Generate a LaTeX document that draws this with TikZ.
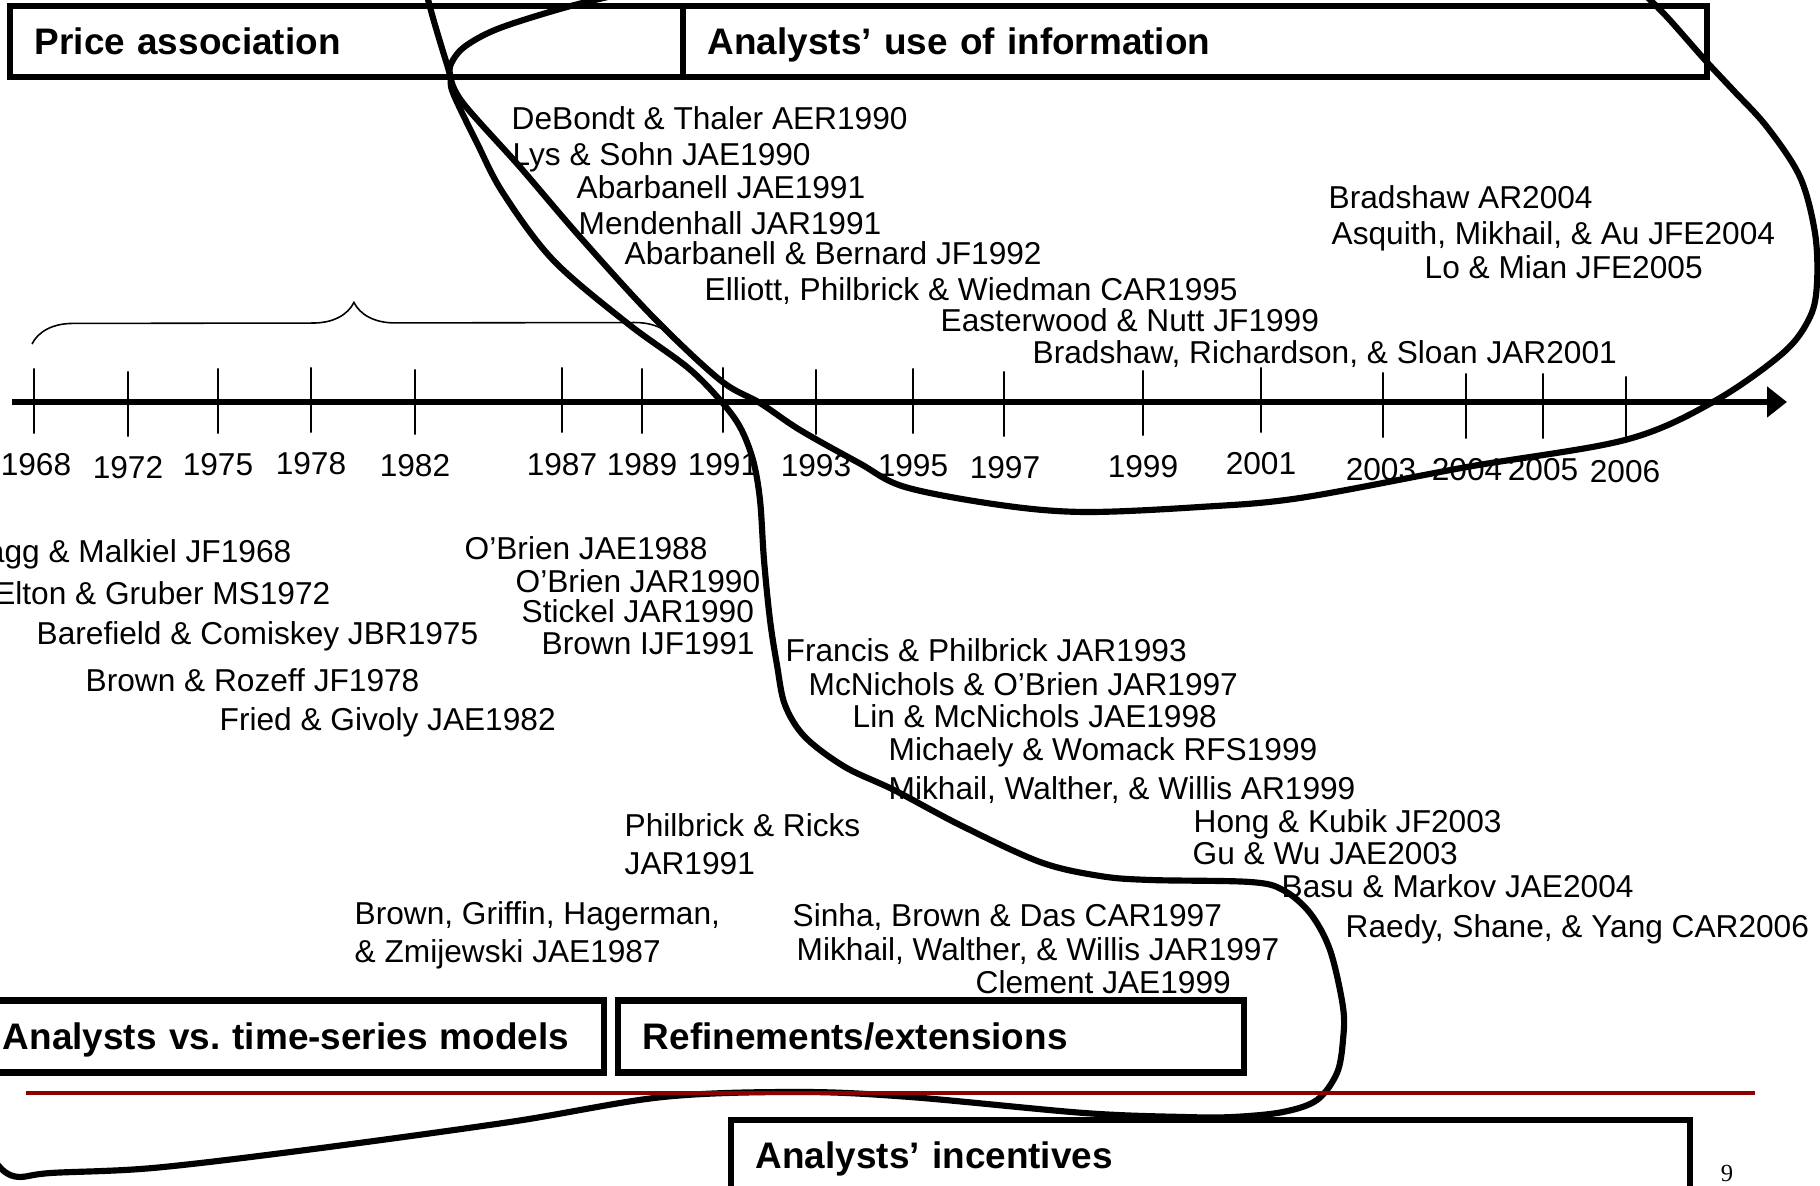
\documentclass[tikz,border=0pt]{standalone}
\usepackage{fontspec}
\setmainfont{Liberation Sans}
\newfontfamily\slidenumfont{Liberation Serif}
\usetikzlibrary{arrows.meta,decorations.pathreplacing}
\definecolor{slidered}{RGB}{140,0,0}
\tikzset{
  paper/.style={font=\fontsize{9}{10.9}\selectfont, inner sep=0pt, text height=6.4pt, text depth=0pt, anchor=west},
  paperblock/.style={font=\fontsize{9}{10.9}\selectfont, inner sep=0pt, align=left, anchor=north west},
  year/.style={font=\fontsize{9}{10.8}\selectfont, inner sep=0pt, text height=6.4pt, text depth=0pt},
  tick/.style={draw, line width=0.5pt, inner sep=0pt, minimum width=0pt, minimum height=0.65cm},
  topic/.style={draw, line width=1.8pt, font=\fontsize{10.5}{12.6}\selectfont\bfseries, inner xsep=0.25cm, inner ysep=0pt, text height=7.5pt, text depth=0pt, align=left},
  lasso/.style={line width=1.75pt, line cap=round, line join=round}
}
\begin{document}
\begin{tikzpicture}[x=0.01cm, y=-0.01cm]
      \useasboundingbox (0,0) rectangle (1820,1186);
      \clip (0,0) rectangle (1820,1186);

      \node[topic, minimum height=0.71cm, text width=6.23cm](price) at (346.5,41.5){Price association};
      \node[topic, minimum height=0.71cm, text width=9.74cm](useinfo) at (1195,41.5){Analysts’ use of information};
      \node[topic, minimum height=0.72cm, text width=5.76cm](tsmodels) at (291,1036.5){Analysts vs.\ time-series models};
      \node[topic, minimum height=0.72cm, text width=5.76cm](refine) at (931,1036.5){Refinements/extensions};
      \node[topic, minimum height=0.70cm, text width=9.09cm](incent) at (1210.5,1155){Analysts’ incentives};

      \coordinate (axisl) at (12,402);
      \coordinate (axisr) at (1787,402);
      \draw[line width=1.9pt, -{Triangle[length=0.2cm, width=0.3cm]}] (axisl) -- (axisr);

      \node[tick](k1968) at (34,401){};
      \node[tick](k1972) at (128,404){};
      \node[tick](k1975) at (218,401){};
      \node[tick](k1978) at (311,400){};
      \node[tick](k1982) at (415,402){};
      \node[tick](k1987) at (562,400){};
      \node[tick](k1989) at (642,401){};
      \node[tick](k1991) at (723,400){};
      \node[tick](k1993) at (816,402){};
      \node[tick](k1995) at (913,401){};
      \node[tick](k1997) at (1004,404){};
      \node[tick](k1999) at (1143,403){};
      \node[tick](k2001) at (1261,400){};
      \node[tick](k2003) at (1383,405){};
      \node[tick](k2004) at (1466,406){};
      \node[tick](k2005) at (1543,406){};
      \node[tick](k2006) at (1626,409){};

      \node[year](y1968) at (36,464){1968};
      \node[year](y1972) at (128,467){1972};
      \node[year](y1975) at (218,464){1975};
      \node[year](y1978) at (311,463){1978};
      \node[year](y1982) at (415,465){1982};
      \node[year](y1987) at (562,464){1987};
      \node[year](y1989) at (642,464){1989};
      \node[year](y1991) at (723,464){1991};
      \node[year](y1993) at (816,465){1993};
      \node[year](y1995) at (913,465){1995};
      \node[year](y1997) at (1005,467){1997};
      \node[year](y1999) at (1143,466){1999};
      \node[year](y2001) at (1261,463){2001};
      \node[year](y2003) at (1381,469){2003};
      \node[year](y2004) at (1467,469){2004};
      \node[year](y2005) at (1543,469){2005};
      \node[year](y2006) at (1625,471){2006};

      \coordinate (bracel) at (32,344);
      \coordinate (bracer) at (676,343);
      \draw[line width=0.45pt, decorate, decoration={brace, amplitude=0.41cm}] (bracel) -- (bracer);

      \node[paper](debondt) at (511,118){DeBondt \& Thaler AER1990};
      \node[paper](lys) at (512,154){Lys \& Sohn JAE1990};
      \node[paper](abar) at (576,187){Abarbanell JAE1991};
      \node[paper](mend) at (578,223){Mendenhall JAR1991};
      \node[paper](abarb) at (624,253){Abarbanell \& Bernard JF1992};
      \node[paper](elliott) at (704,289){Elliott, Philbrick \& Wiedman CAR1995};
      \node[paper](easter) at (940,320){Easterwood \& Nutt JF1999};
      \node[paper](bradrs) at (1032,352){Bradshaw, Richardson, \& Sloan JAR2001};
      \node[paper](brad04) at (1328,197){Bradshaw AR2004};
      \node[paper](asquith) at (1331,233){Asquith, Mikhail, \& Au JFE2004};
      \node[paper](lomian) at (1424,267){Lo \& Mian JFE2005};

      \node[paper, anchor=east](cragg) at (292,551){Cragg \& Malkiel JF1968};
      \node[paper, anchor=east](elton) at (331,593){Elton \& Gruber MS1972};
      \node[paper](barefield) at (36,633){Barefield \& Comiskey JBR1975};
      \node[paper](rozeff) at (85,680){Brown \& Rozeff JF1978};
      \node[paper](fried) at (219,719){Fried \& Givoly JAE1982};
      \node[paper](obrien88) at (464,548){O’Brien JAE1988};
      \node[paper](obrien90) at (515,581){O’Brien JAR1990};
      \node[paper](stickel) at (521,611){Stickel JAR1990};
      \node[paper](brownijf) at (541,643){Brown IJF1991};
      \node[paperblock](ricks) at (624,813){Philbrick \& Ricks\\JAR1991};
      \node[paperblock](bghz) at (354,901){Brown, Griffin, Hagerman,\\\& Zmijewski JAE1987};

      \node[paper](francis) at (785,650){Francis \& Philbrick JAR1993};
      \node[paper](mcnob) at (808,684){McNichols \& O’Brien JAR1997};
      \node[paper](linmc) at (852,716){Lin \& McNichols JAE1998};
      \node[paper](michaely) at (888,749){Michaely \& Womack RFS1999};
      \node[paper](mww99) at (888,788){Mikhail, Walther, \& Willis AR1999};
      \node[paper](hong) at (1193,821){Hong \& Kubik JF2003};
      \node[paper](guwu) at (1192,853){Gu \& Wu JAE2003};
      \node[paper](basu) at (1281,886){Basu \& Markov JAE2004};
      \node[paper](raedy) at (1345,926){Raedy, Shane, \& Yang CAR2006};
      \node[paper](sinha) at (792,915){Sinha, Brown \& Das CAR1997};
      \node[paper](mww97) at (796,949){Mikhail, Walther, \& Willis JAR1997};
      \node[paper](clement) at (975,982){Clement JAE1999};

      \draw[lasso] plot[smooth, tension=0.55] coordinates {(630,-8) (567,7) (500,28) (467,45) (453,60) (450,75) (463,103) (520,167) (580,237) (653,317) (720,380) (760,403) (800,430) (859,463) (905,487) (1000,505) (1084,512) (1200,507) (1300,498) (1467,467) (1625,440) (1713,402) (1783,353) (1810,317) (1817,283) (1815,233) (1800,177) (1767,127) (1733,90) (1705,60) (1667,17) (1640,-10)};
      \draw[lasso] plot[smooth, tension=0.55] coordinates {(426,-8) (433,18) (441,45) (450,75) (453,93) (477,143) (503,193) (553,260) (627,323) (687,367) (720,400) (740,427) (753,460) (760,500) (764,560) (770,620) (777,665) (785,705) (805,737) (845,767) (894,790) (960,825) (1040,862) (1100,876) (1150,880) (1250,882) (1283,890) (1310,913) (1330,950) (1343,1007) (1343,1040) (1337,1073) (1317,1100) (1283,1112) (1233,1117) (1183,1117) (1084,1113) (910,1097) (800,1092) (663,1097) (510,1122) (306,1150) (153,1168) (51,1173) (20,1177) (5,1172) (-8,1158)};

      \coordinate (redl) at (26,1093);
      \coordinate (redr) at (1755,1093);
      \draw[slidered, line width=0.9pt] (redl) -- (redr);

      \node[font=\slidenumfont\fontsize{7}{8}\selectfont, inner sep=0pt, anchor=base](pagenum) at (1727,1182){9};
    \end{tikzpicture}
\end{document}
